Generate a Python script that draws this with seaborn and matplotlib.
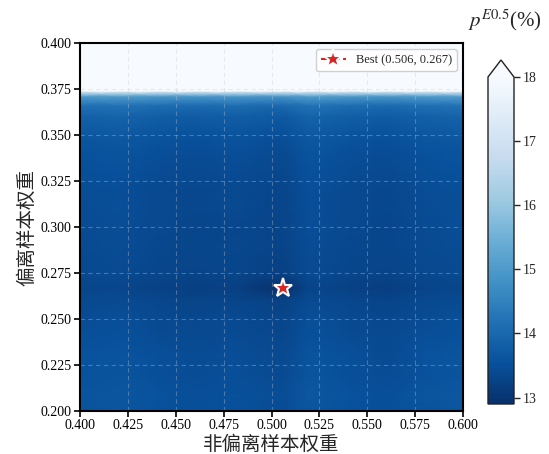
import numpy as np
import matplotlib
matplotlib.use("Agg")
import matplotlib.pyplot as plt
import seaborn as sns

# ---------------- data ----------------
x_vals = [0.400, 0.420, 0.440, 0.460, 0.480, 0.506, 0.520, 0.540, 0.560, 0.580, 0.600]
y_vals = [0.200, 0.210, 0.220, 0.230, 0.240, 0.250, 0.260, 0.267, 0.275, 0.290,
          0.300, 0.310, 0.320, 0.330, 0.340, 0.350, 0.360, 0.366, 0.371, 0.374, 0.400]

row_200 = [13.60, 13.65, 13.55, 13.50, 13.55, 13.45, 13.65, 13.55, 13.50, 13.60, 13.65]
row_210 = [13.58, 13.64, 13.56, 13.49, 13.53, 13.46, 13.66, 13.57, 13.51, 13.62, 13.66]
row_220 = [13.55, 13.60, 13.50, 13.45, 13.50, 13.40, 13.60, 13.50, 13.45, 13.55, 13.60]
row_230 = [13.57, 13.58, 13.52, 13.44, 13.49, 13.41, 13.61, 13.52, 13.43, 13.56, 13.62]
row_240 = [13.50, 13.55, 13.45, 13.40, 13.45, 13.35, 13.55, 13.45, 13.40, 13.50, 13.55]
row_250 = [13.45, 13.50, 13.40, 13.35, 13.40, 13.30, 13.50, 13.40, 13.35, 13.45, 13.50]
row_260 = [13.38, 13.43, 13.34, 13.29, 13.33, 13.24, 13.42, 13.34, 13.29, 13.38, 13.43]
row_267 = [13.30, 13.33, 13.25, 13.20, 13.22, 12.90, 13.30, 13.24, 13.19, 13.28, 13.33]
row_275 = [13.38, 13.42, 13.33, 13.28, 13.32, 13.22, 13.42, 13.33, 13.28, 13.37, 13.42]
row_290 = [13.42, 13.46, 13.37, 13.32, 13.37, 13.28, 13.47, 13.37, 13.32, 13.42, 13.47]
row_300 = [13.43, 13.46, 13.38, 13.31, 13.35, 13.28, 13.48, 13.38, 13.31, 13.43, 13.48]
row_310 = [13.45, 13.50, 13.40, 13.35, 13.40, 13.30, 13.50, 13.40, 13.35, 13.45, 13.50]
row_320 = [13.46, 13.49, 13.41, 13.34, 13.38, 13.31, 13.51, 13.41, 13.34, 13.46, 13.51]
row_330 = [13.50, 13.55, 13.45, 13.40, 13.45, 13.35, 13.55, 13.45, 13.40, 13.50, 13.55]
row_340 = [13.55, 13.60, 13.50, 13.45, 13.50, 13.40, 13.60, 13.50, 13.45, 13.55, 13.60]
row_350 = [13.65, 13.70, 13.60, 13.55, 13.60, 13.50, 13.70, 13.60, 13.55, 13.65, 13.70]
row_360 = [13.85, 13.90, 13.80, 13.75, 13.80, 13.70, 13.90, 13.80, 13.75, 13.85, 13.90]
row_366 = [14.15, 14.20, 14.10, 14.05, 14.10, 14.00, 14.20, 14.10, 14.05, 14.15, 14.20]
row_371 = [15.05, 15.10, 15.00, 14.95, 15.00, 14.90, 15.10, 15.00, 14.95, 15.05, 15.10]
row_374 = [19.0] * 11
row_400 = [19.0] * 11

best_x = 0.506
best_y = 0.267
x_ticks = [0.400, 0.425, 0.450, 0.475, 0.500, 0.525, 0.550, 0.575, 0.600]
y_ticks = [0.200, 0.225, 0.250, 0.275, 0.300, 0.325, 0.350, 0.375, 0.400]
cbar_ticks = [13, 14, 15, 16, 17, 18]

grid = np.array([row_200, row_210, row_220, row_230, row_240, row_250, row_260,
                 row_267, row_275, row_290, row_300, row_310, row_320, row_330,
                 row_340, row_350, row_360, row_366, row_371, row_374, row_400])

# ---------------- style ----------------
sns.set_theme(style="ticks")
plt.rcParams["font.family"] = ["Liberation Serif", "Noto Sans CJK SC"]
plt.rcParams["mathtext.fontset"] = "stix"
plt.rcParams["axes.unicode_minus"] = False

cmap = sns.color_palette("Blues_r", as_cmap=True)

fig = plt.figure(figsize=(5.49, 4.54), dpi=100)
ax = fig.add_axes([80 / 549, 43 / 454, 383 / 549, 368 / 454])
cax = fig.add_axes([488 / 549, 50 / 454, 26 / 549, 344 / 454])

X, Y = np.meshgrid(x_vals, y_vals)
vmin = grid.min()
mesh = ax.pcolormesh(X, Y, grid, shading="gouraud", cmap=cmap, vmin=vmin, vmax=18,
                     zorder=1)

ax.plot([best_x], [best_y], marker="*", color="#d62728", markersize=14,
        markeredgecolor="white", markeredgewidth=1.5, linestyle="--",
        label=f"Best ({best_x:.3f}, {best_y:.3f})", zorder=5)

ax.set_xlim(0.4, 0.6)
ax.set_ylim(0.2, 0.4)
ax.set_xticks(x_ticks)
ax.set_yticks(y_ticks)
ax.set_xticklabels([f"{v:.3f}" for v in x_ticks], fontsize=10)
ax.set_yticklabels([f"{v:.3f}" for v in y_ticks], fontsize=10)
ax.tick_params(direction="out", length=4, width=1.2, colors="black", pad=2)
ax.set_axisbelow("line")
ax.grid(True, linestyle=(0, (4, 3)), color="#c8c8c8", alpha=0.35, linewidth=0.8)
for s in ax.spines.values():
    s.set_linewidth(1.5)
    s.set_color("black")
    s.set_zorder(4)

ax.set_xlabel("非偏离样本权重", fontsize=14, labelpad=2)
ax.set_ylabel("偏离样本权重", fontsize=14, labelpad=3)

leg = ax.legend(loc="upper right", fontsize=9, frameon=True, fancybox=True,
                framealpha=0.9, edgecolor="#cccccc")

cb = fig.colorbar(mesh, cax=cax, extend="max", extendfrac=0.052)
cb.set_ticks(cbar_ticks)
cb.ax.set_yticklabels([str(t) for t in cbar_ticks], fontsize=10)
cb.ax.tick_params(direction="out", length=4, width=1.0, pad=2)
cb.outline.set_linewidth(1.0)
cb.outline.set_edgecolor("#222222")

fig.text(505 / 549, 1 - 20 / 454, r"$p^{E0.5}$(%)", ha="center",
         va="center", fontsize=15, family="Liberation Serif")

fig.savefig("out.png", dpi=100)
